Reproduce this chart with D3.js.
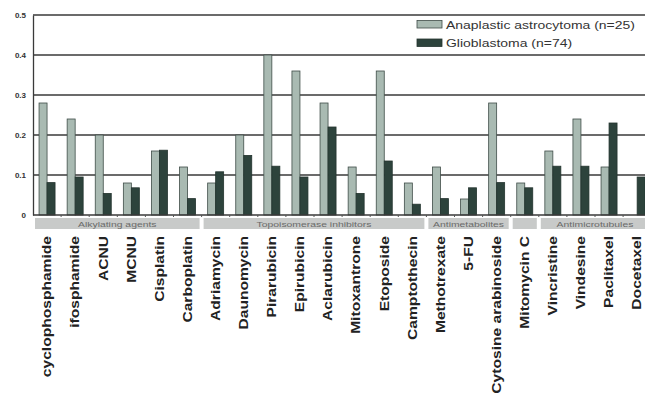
<!DOCTYPE html>
<html>
<head>
<meta charset="utf-8">
<script src="https://cdn.jsdelivr.net/npm/d3@7/dist/d3.min.js"></script>
<style>
  html, body { margin: 0; padding: 0; background: #fff; }
  svg { display: block; font-family: "Liberation Sans", Arial, sans-serif; }
</style>
</head>
<body>
<svg id="chart" width="645" height="395"></svg>
<script>
// Drug names along the x axis
const drugs = [
  "cyclophosphamide", "ifosphamide", "ACNU", "MCNU", "Cisplatin", "Carboplatin",
  "Adriamycin", "Daunomycin", "Pirarubicin", "Epirubicin", "Aclarubicin",
  "Mitoxantrone", "Etoposide", "Camptothecin", "Methotrexate", "5-FU",
  "Cytosine arabinoside", "Mitomycin C", "Vincristine", "Vindesine",
  "Paclitaxel", "Docetaxel"
];

// Series names (legend)
const seriesNames = ["Anaplastic astrocytoma (n=25)", "Glioblastoma (n=74)"];

// Fraction of tumours per drug, anaplastic astrocytoma
const astrocytoma = [
  0.28, 0.24, 0.20, 0.08, 0.16, 0.12,
  0.08, 0.20, 0.40, 0.36, 0.28,
  0.12, 0.36, 0.08, 0.12, 0.04,
  0.28, 0.08, 0.16, 0.24,
  0.12, 0.00
];

// Fraction of tumours per drug, glioblastoma
const glioblastoma = [
  0.081, 0.095, 0.054, 0.068, 0.162, 0.041,
  0.108, 0.149, 0.122, 0.095, 0.220,
  0.054, 0.135, 0.027, 0.041, 0.068,
  0.081, 0.068, 0.122, 0.122,
  0.230, 0.095
];

// Drug classes: label, first and last drug index
const groupLabels = ["Alkylating agents", "Topoisomerase inhibitors", "Antimetabolites", "", "Antimicrotubules"];
const groupStart  = [0, 6, 14, 17, 18];
const groupEnd    = [5, 13, 16, 17, 21];

const yTicks = [0, 0.1, 0.2, 0.3, 0.4, 0.5];

const svg = d3.select("#chart");
const plotLeft = 33, step = 28.1;
const plotTop = 15, plotBottom = 215;

const x = d3.scaleBand().domain(drugs).range([plotLeft, plotLeft + step * drugs.length]).padding(0);
const xs = d3.scaleBand().domain(seriesNames).range([6.05, 22.05]).padding(0);
const y = d3.scaleLinear().domain([0, 0.5]).range([plotBottom, plotTop]);

const colors = ["#a9bab2", "#2d433c"];
const strokes = ["#3f4d48", "#23342e"];

// Horizontal gridlines
svg.append("g").selectAll("line")
  .data(yTicks.filter(d => d > 0))
  .join("line")
  .attr("x1", plotLeft).attr("x2", 645)
  .attr("y1", d => y(d)).attr("y2", d => y(d))
  .attr("stroke", "#3a3a3a").attr("stroke-width", 1.3);

// Y axis
const yAxis = svg.append("g")
  .attr("transform", `translate(${plotLeft},0)`)
  .call(d3.axisLeft(y).tickValues(yTicks).tickSize(0).tickPadding(7)
    .tickFormat(d => d === 0 ? "0" : d3.format(".1f")(d)));
yAxis.select(".domain").attr("stroke", "#3a3a3a").attr("stroke-width", 1.3);
yAxis.selectAll("text")
  .attr("font-size", 8).attr("font-weight", "bold").attr("fill", "#333")
  .attr("font-family", "Liberation Sans, Arial, sans-serif");

// Bars
const rows = drugs.map((d, i) => ({ drug: d, vals: [astrocytoma[i], glioblastoma[i]] }));
const groups = svg.append("g").selectAll("g")
  .data(rows)
  .join("g")
  .attr("transform", d => `translate(${x(d.drug)},0)`);

groups.selectAll("rect")
  .data(d => d.vals.map((v, k) => ({ k, v })).filter(e => e.v > 0))
  .join("rect")
  .attr("x", e => xs(seriesNames[e.k]))
  .attr("width", xs.bandwidth())
  .attr("y", e => y(e.v))
  .attr("height", e => y(0) - y(e.v))
  .attr("fill", e => colors[e.k])
  .attr("stroke", e => strokes[e.k])
  .attr("stroke-width", 0.8);

// Baseline with small ticks between drugs
svg.append("line")
  .attr("x1", plotLeft).attr("x2", 645)
  .attr("y1", y(0)).attr("y2", y(0))
  .attr("stroke", "#3a3a3a").attr("stroke-width", 1.3);
svg.append("g").selectAll("line")
  .data(drugs.slice(1))
  .join("line")
  .attr("x1", d => x(d)).attr("x2", d => x(d))
  .attr("y1", y(0)).attr("y2", y(0) + 2)
  .attr("stroke", "#555").attr("stroke-width", 1);

// Drug-class bands
const bandG = svg.append("g");
groupLabels.forEach((g, i) => {
  const x0 = x(drugs[groupStart[i]]) + 2;
  const x1 = x(drugs[groupEnd[i]]) + x.bandwidth() - 2;
  bandG.append("rect")
    .attr("x", x0).attr("y", 218).attr("width", x1 - x0).attr("height", 11)
    .attr("fill", "#c8cac9");
  if (g) {
    bandG.append("text")
      .attr("transform", `translate(${(x0 + x1) / 2},226.5) scale(1.3,1)`)
      .attr("text-anchor", "middle")
      .attr("font-size", 8)
      .attr("fill", "#6a6a6a")
      .text(g);
  }
});

// Rotated drug labels
svg.append("g").selectAll("text")
  .data(drugs)
  .join("text")
  .attr("transform", d => `translate(${x(d) + x.bandwidth() / 2 + 4.3},236) rotate(-90) scale(1.3,1)`)
  .attr("text-anchor", "end")
  .attr("font-size", 12)
  .attr("font-weight", "bold")
  .attr("fill", "#222")
  .text(d => d);

// Legend
const legend = svg.append("g");
seriesNames.forEach((s, k) => {
  const yy = 20.5 + k * 18.5;
  legend.append("rect")
    .attr("x", 417).attr("y", yy).attr("width", 25).attr("height", 7.5)
    .attr("fill", colors[k]).attr("stroke", strokes[k]).attr("stroke-width", 0.8);
  legend.append("text")
    .attr("transform", `translate(446,${yy + 8.2}) scale(1.27,1)`)
    .attr("font-size", 11)
    .attr("fill", "#333")
    .text(s);
});
</script>
</body>
</html>
